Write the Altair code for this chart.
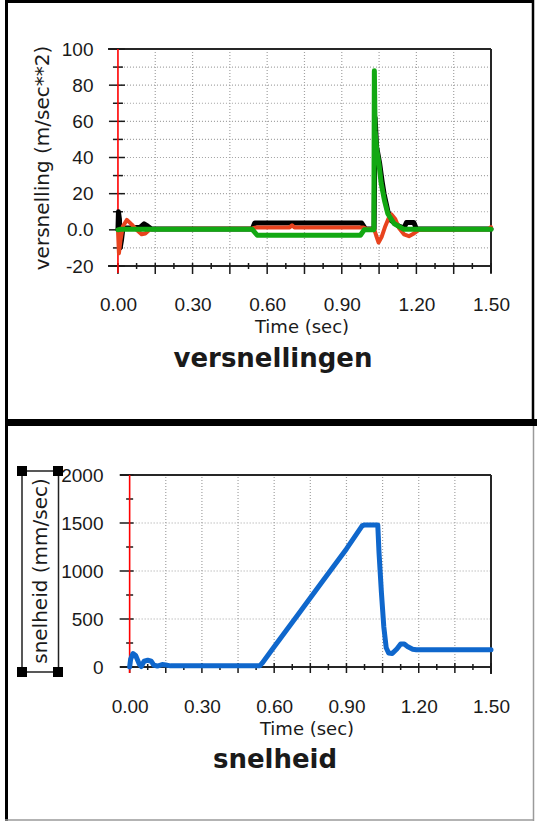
import altair as alt
import pandas as pd

# ---------------- values ----------------
# top panel: accelerations (m/sec**2) of three signals
black_t = [0.000, 0.002, 0.006, 0.009, 0.014, 0.020, 0.050, 0.090, 0.105, 0.120, 0.135, 0.540, 0.550,
           0.980, 0.995, 1.030, 1.034, 1.040, 1.052, 1.062, 1.070, 1.085, 1.100, 1.130, 1.150, 1.160,
           1.190, 1.200, 1.500]
black_v = [0.0, 10.0, 6.0, -10.0, -6.0, 1.0, 1.0, 1.5, 3.3, 2.0, 0.5, 0.5, 3.8,
           3.8, 0.5, 0.5, 62.0, 46.0, 37.0, 27.0, 20.0, 10.5, 5.0, 2.0, 1.0, 4.0,
           4.0, 0.5, 0.5]

red_t = [0.000, 0.004, 0.010, 0.020, 0.036, 0.055, 0.075, 0.095, 0.110, 0.130, 0.540, 0.555, 0.690,
         0.700, 0.710, 0.985, 1.000, 1.030, 1.038, 1.048, 1.060, 1.075, 1.090, 1.100, 1.115, 1.130,
         1.150, 1.170, 1.190, 1.210, 1.490, 1.500]
red_v = [0.0, -13.0, -6.0, 2.0, 5.5, 3.0, 0.0, -2.5, -2.0, 0.5, 0.8, 1.3, 1.3,
         2.5, 1.3, 1.3, 0.5, 0.5, -3.0, -7.0, -4.0, 2.0, 7.0, 8.5, 6.0, 1.0,
         -2.5, -3.5, -2.0, 0.0, 0.3, 1.5]

green_t = [0.000, 0.010, 0.540, 0.560, 0.975, 0.990, 1.029, 1.031, 1.034, 1.040, 1.050, 1.058,
           1.072, 1.085, 1.110, 1.150, 1.500]
green_v = [0.0, 0.3, 0.3, -3.0, -3.0, 0.0, 0.0, 88.0, 55.0, 45.0, 36.0, 26.0,
           16.0, 9.0, 3.5, 0.3, 0.3]

# bottom panel: speed (mm/sec)
blue_t = [0.000, 0.004, 0.014, 0.025, 0.040, 0.048, 0.060, 0.075, 0.090, 0.100, 0.115, 0.135,
          0.150, 0.170, 0.540, 0.550, 0.600, 0.700, 0.800, 0.900, 0.965, 0.975, 1.030, 1.035,
          1.045, 1.055, 1.065, 1.075, 1.090, 1.110, 1.125, 1.140, 1.155, 1.175, 1.190, 1.500]
blue_v = [0, 80, 140, 120, 30, 5, 60, 70, 60, 20, 10, 25,
          20, 12, 12, 40, 210, 550, 890, 1230, 1470, 1480, 1480, 1200,
          780, 420, 200, 145, 140, 190, 240, 240, 210, 185, 180, 180]

# axis values
x_label_values = [0.0, 0.3, 0.6, 0.9, 1.2, 1.5]
x_major_ticks = [0.0, 0.15, 0.30, 0.45, 0.60, 0.75, 0.90, 1.05, 1.20, 1.35, 1.50]
x_minor_ticks = [0.075, 0.225, 0.375, 0.525, 0.675, 0.825, 0.975, 1.125, 1.275, 1.425]
x_grid_values = [0.15, 0.30, 0.45, 0.60, 0.75, 0.90, 1.05, 1.20, 1.35]

acc_label_values = [-20, 0, 20, 40, 60, 80, 100]
acc_minor_ticks = [-10, 10, 30, 50, 70, 90]
acc_grid_values = [-10, 10, 20, 30, 40, 50, 60, 70, 80, 90]

vel_label_values = [0, 500, 1000, 1500, 2000]
vel_minor_ticks = [250, 750, 1250, 1750]
vel_grid_values = [500, 1000, 1500]

T_MIN, T_MAX = -0.04, 1.5

# ---------------- layout (pixels) ----------------
W, H = 537, 821
PANELS = {
    "acc": dict(xr=[108, 491], yr=[266, 49], ydom=[-20, 100]),
    "vel": dict(xr=[120, 491], yr=[667, 475], ydom=[0, 2000]),
}
INK = "#1a1a1a"
FRAME = "#262626"
GRID = "#a2a2a2"
TICK_FONT = "Liberation Sans"
TEXT_FONT = "DejaVu Sans"


def scales(p):
    c = PANELS[p]
    xs = alt.Scale(domain=[T_MIN, T_MAX], range=c["xr"], nice=False, zero=False)
    ys = alt.Scale(domain=c["ydom"], range=c["yr"], nice=False, zero=False)
    return xs, ys


def xu(p, px):
    c = PANELS[p]
    return px * (T_MAX - T_MIN) / (c["xr"][1] - c["xr"][0])


def yu(p, px):
    c = PANELS[p]
    return px * (c["ydom"][1] - c["ydom"][0]) / (c["yr"][0] - c["yr"][1])


def segs(p, x, x2, y, y2, color, width, dash=None):
    xs, ys = scales(p)
    df = pd.DataFrame({"x": x, "x2": x2, "y": y, "y2": y2})
    kw = dict(color=color, strokeWidth=width)
    if dash:
        kw["strokeDash"] = dash
    return alt.Chart(df).mark_rule(**kw).encode(
        x=alt.X("x:Q", scale=xs, axis=None), x2="x2:Q",
        y=alt.Y("y:Q", scale=ys, axis=None), y2="y2:Q")


def series(p, t, v, color, width):
    xs, ys = scales(p)
    df = pd.DataFrame({"t": t, "v": v, "i": list(range(len(t)))})
    return alt.Chart(df).mark_line(color=color, strokeWidth=width, strokeJoin="round",
                                   strokeCap="round").encode(
        x=alt.X("t:Q", scale=xs, axis=None),
        y=alt.Y("v:Q", scale=ys, axis=None),
        order="i:Q")


def axes(p, ylabels, label_top, label_right):
    xs, ys = scales(p)
    c = PANELS[p]
    df = pd.DataFrame({"x": [0.0], "y": [c["ydom"][0]]})
    common = dict(title="", domain=False, ticks=False, tickSize=0, grid=False, labelPadding=0,
                  labelFont=TICK_FONT, labelFontSize=19, labelColor=INK, labelOverlap=False)
    zero_expr = "true" if p == "acc" else "false"
    return alt.Chart(df).mark_point(opacity=0).encode(
        x=alt.X("x:Q", scale=xs, axis=alt.Axis(orient="bottom", values=x_label_values, format=".2f",
                                               offset=label_top - H, labelFlush=False, **common)),
        y=alt.Y("y:Q", scale=ys, axis=alt.Axis(orient="left", values=ylabels,
                                               labelExpr="datum.value == 0 && " + zero_expr +
                                                         " ? '0.0' : '' + datum.value",
                                               offset=-label_right, **common)))


def panel(p, grid_h, major_y, minor_y, ymaj, ymin, xmaj, xmin, red_below):
    c = PANELS[p]
    lo, hi = c["ydom"]
    L = []
    # grid
    L.append(segs(p, x_grid_values, x_grid_values, [lo] * len(x_grid_values), [hi] * len(x_grid_values),
                  GRID, 1.2, [1, 2]))
    L.append(segs(p, [0.0] * len(grid_h), [T_MAX] * len(grid_h), grid_h, grid_h, GRID, 1.2, [1, 2]))
    # frame (top, bottom, right)
    L.append(segs(p, [T_MIN, T_MIN, T_MAX], [T_MAX, T_MAX, T_MAX], [hi, lo, lo - yu(p, 7)], [hi, lo, hi],
                  FRAME, 2))
    # y ticks around the zero line
    L.append(segs(p, [-xu(p, ymaj[0])] * len(major_y), [xu(p, ymaj[1])] * len(major_y), major_y, major_y,
                  INK, 1.5))
    L.append(segs(p, [-xu(p, ymin)] * len(minor_y), [xu(p, ymin)] * len(minor_y), minor_y, minor_y, INK, 1.5))
    # x ticks
    L.append(segs(p, x_major_ticks, x_major_ticks, [lo + yu(p, xmaj[0])] * len(x_major_ticks),
                  [lo - yu(p, xmaj[1])] * len(x_major_ticks), INK, 1.5))
    L.append(segs(p, x_minor_ticks, x_minor_ticks, [lo + yu(p, xmin)] * len(x_minor_ticks),
                  [lo - yu(p, xmin)] * len(x_minor_ticks), INK, 1.5))
    # red zero line
    L.append(segs(p, [0.0], [0.0], [lo - yu(p, red_below)], [hi], "#ff0000", 1.6))
    return L


def px_rule(x, y, x2=None, y2=None, color="black", width=1.0):
    enc = dict(x=alt.value(x), y=alt.value(y))
    if x2 is not None:
        enc["x2"] = alt.value(x2)
    if y2 is not None:
        enc["y2"] = alt.value(y2)
    return alt.Chart(pd.DataFrame({"k": [0]})).mark_rule(color=color, strokeWidth=width).encode(**enc)


def px_rect(x, x2, y, y2, fill=None, stroke=None, width=1.0):
    kw = {}
    if fill:
        kw["color"] = fill
        kw["fill"] = fill
    else:
        kw["filled"] = False
        kw["fillOpacity"] = 0
    if stroke:
        kw["stroke"] = stroke
        kw["strokeWidth"] = width
    return alt.Chart(pd.DataFrame({"k": [0]})).mark_rect(**kw).encode(
        x=alt.value(x), x2=alt.value(x2), y=alt.value(y), y2=alt.value(y2))


def text(s, x, y, size, bold=False, angle=0, baseline="middle", font=TEXT_FONT):
    kw = dict(text=s, font=font, fontSize=size, color=INK, align="center", baseline=baseline)
    if bold:
        kw["fontWeight"] = "bold"
    if angle:
        kw["angle"] = angle
    return alt.Chart(pd.DataFrame({"k": [0]})).mark_text(**kw).encode(x=alt.value(x), y=alt.value(y))


layers = []
# top panel
layers += panel("acc", acc_grid_values, acc_label_values, acc_minor_ticks, (9, 7), 5, (3, 8), 3, 7)
layers.append(series("acc", black_t, black_v, "#000000", 5))
layers.append(series("acc", red_t, red_v, "#e8431e", 4))
layers.append(series("acc", green_t, green_v, "#12a812", 5))
layers.append(axes("acc", acc_label_values, 295, 93))
# bottom panel
layers += panel("vel", vel_grid_values, vel_label_values, vel_minor_ticks, (10, 4), 3.5, (4, 6), 3, 6)
layers.append(series("vel", blue_t, blue_v, "#0f67cc", 5))
layers.append(axes("vel", vel_label_values, 697, 103))

# texts
layers.append(text("versnelling (m/sec**2)", 43, 158, 20, angle=270))
layers.append(text("Time (sec)", 302, 328, 18))
layers.append(text("versnellingen", 273, 367, 26, bold=True, baseline="alphabetic"))
layers.append(text("snelheid (mm/sec)", 41, 571, 20, angle=270))
layers.append(text("Time (sec)", 307, 730, 18))
layers.append(text("snelheid", 275, 768, 26, bold=True, baseline="alphabetic"))

# selection box around the lower y title
layers.append(px_rect(22, 58.5, 471, 672, stroke="#222222", width=1.5))
for hx, hy in [(22, 471), (58, 471), (22, 672), (58, 672)]:
    layers.append(px_rect(hx - 5, hx + 5, hy - 5, hy + 5, fill="#000000"))

# window borders
layers.append(px_rule(6.5, 0, y2=821, width=3))
layers.append(px_rule(5, 1.5, x2=534, width=3))
layers.append(px_rule(533, 0, y2=423, width=2.5))
layers.append(px_rule(5, 422.5, x2=537, width=7))
layers.append(px_rule(533.5, 426, y2=821, color="#9a9a9a", width=1.5))
layers.append(px_rule(5, 820, x2=534, color="#9a9a9a", width=1.5))

chart = alt.layer(*layers).resolve_scale(x="independent", y="independent").properties(
    width=W, height=H, autosize=alt.AutoSizeParams(type="none"), padding=0, background="white"
).configure_view(stroke="transparent")

chart.save("out.html", embed_options={"renderer": "svg", "actions": False})
